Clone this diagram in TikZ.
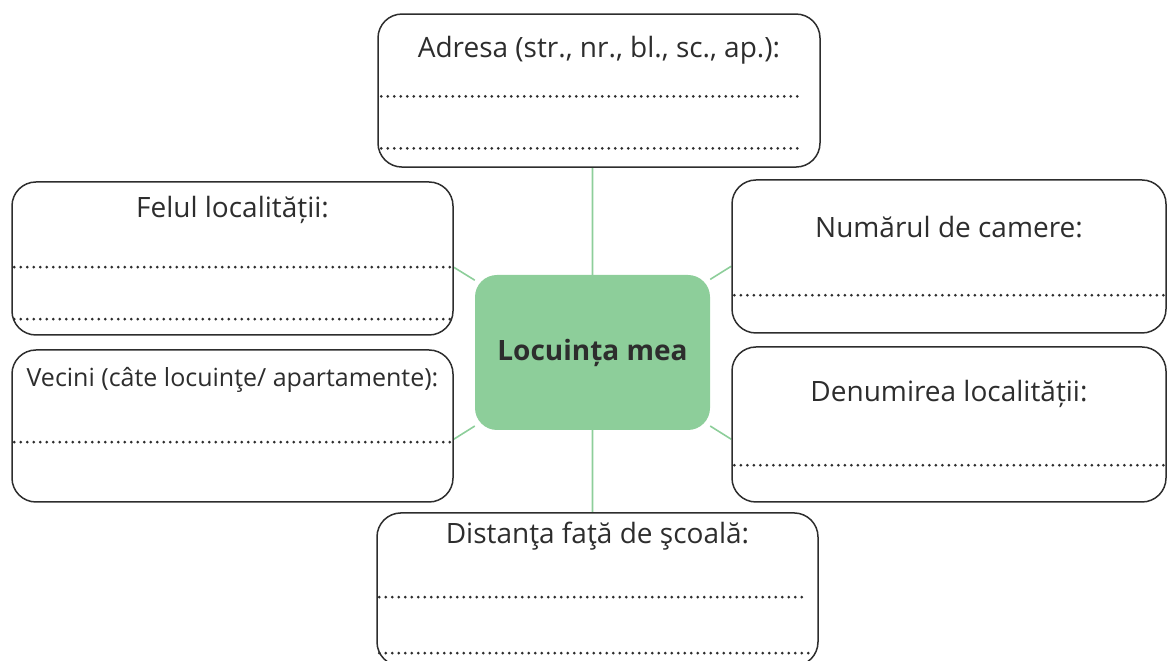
\documentclass[tikz,border=0pt]{standalone}
\usepackage{fontspec}
\setmainfont{Open Sans}
\usepackage{tikz}
\usetikzlibrary{positioning, backgrounds}
\usepackage{xcolor}
\definecolor{leaf}{RGB}{141,206,154}
\definecolor{ink}{RGB}{45,45,45}

\begin{document}
\begin{tikzpicture}[x=1pt, y=1pt,
                field/.style={draw=ink, line width=1.5pt, rounded corners=24pt, inner sep=0pt,
                    text=ink, font=\fontsize{28}{34}\selectfont},
                hub/.style={fill=leaf, rounded corners=22pt, inner sep=0pt, minimum width=235pt,
                    minimum height=155pt, text=ink, font=\fontsize{28}{34}\selectfont\bfseries},
                dotline/.style={draw=ink, line width=3pt, dash pattern=on 0pt off 6.5pt, line cap=round},
                link/.style={draw=leaf, line width=1.6pt}]

                \useasboundingbox (0,0) rectangle (1168,661);

                \node[hub] (center) at (592.5,308.5) {Locuința mea};
                \node[field, minimum width=442pt, text height=43pt, text depth=110pt, xshift=6.5pt]
                    (adr) [above=107pt of center] {Adresa (str., nr., bl., sc., ap.):};
                \node[field, minimum width=441pt, text height=31pt, text depth=122pt, xshift=5pt]
                    (dist) [below=82pt of center] {Distanţa faţă de şcoală:};
                \node[field, minimum width=441pt, text height=36pt, text depth=117pt]
                    (fel) at (232.5,402.5) {Felul localității:};
                \node[field, minimum width=441pt, text height=37pt, text depth=115pt,
                    font=\fontsize{25}{30}\selectfont]
                    (vec) at (232.5,235) {Vecini (câte locuinţe/ apartamente):};
                \node[field, minimum width=434pt, text height=58pt, text depth=95pt]
                    (num) at (949,404.5) {Numărul de camere:};
                \node[field, minimum width=434pt, text height=55pt, text depth=100pt]
                    (den) at (949,236.5) {Denumirea localității:};

                \begin{scope}[on background layer]
                \path[link]
                (center) -- (center |- adr.south)
                (center) -- (center |- dist.north)
                (center) -- ([yshift=-86pt]fel.north east)
                (center) -- ([yshift=-90pt]vec.north east)
                (center) -- ([yshift=-87pt]num.north west)
                (center) -- ([yshift=-93pt]den.north west);
                \end{scope}

                \path[dotline]
                ([shift={(4pt,-83pt)}]adr.north west) -- ([shift={(-17pt,-83pt)}]adr.north east)
                ([shift={(4pt,-135pt)}]adr.north west) -- ([shift={(-20pt,-135pt)}]adr.north east)
                ([shift={(3pt,-86pt)}]fel.north west) -- ([shift={(0pt,-86pt)}]fel.north east)
                ([shift={(3pt,-138pt)}]fel.north west) -- ([shift={(0pt,-138pt)}]fel.north east)
                ([shift={(3pt,-93pt)}]vec.north west) -- ([shift={(-3pt,-93pt)}]vec.north east)
                ([shift={(3pt,-116pt)}]num.north west) -- ([shift={(0pt,-116pt)}]num.north east)
                ([shift={(3pt,-119pt)}]den.north west) -- ([shift={(0pt,-119pt)}]den.north east)
                ([shift={(3pt,-85pt)}]dist.north west) -- ([shift={(-15pt,-85pt)}]dist.north east)
                ([shift={(3pt,-141pt)}]dist.north west) -- ([shift={(-10pt,-141pt)}]dist.north east);

            \end{tikzpicture}
\end{document}
